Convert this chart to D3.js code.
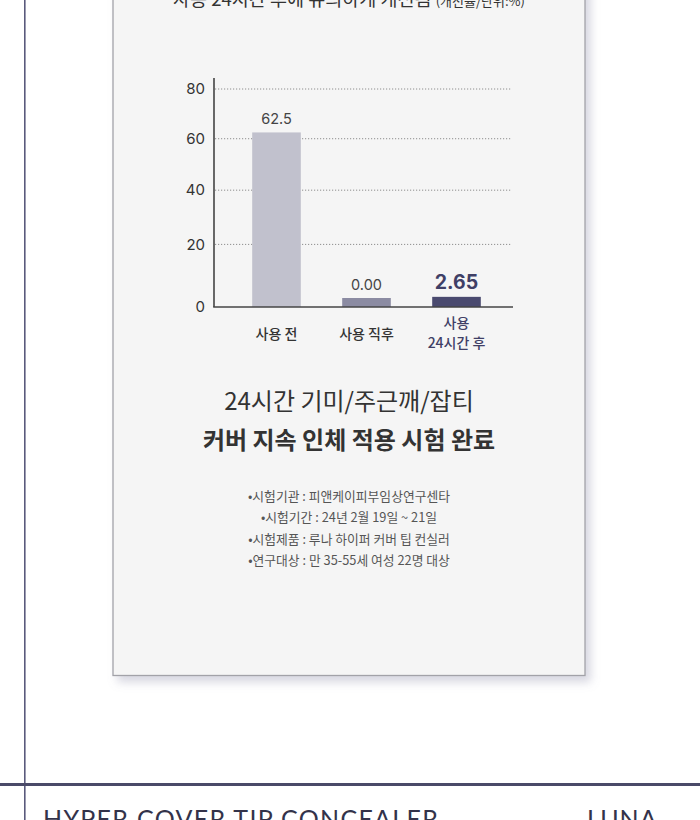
<!DOCTYPE html>
<html>
<head>
<meta charset="utf-8">
<script src="https://cdn.jsdelivr.net/npm/d3@7"></script>
<style>
  html, body { margin: 0; padding: 0; background: #fff; }
  svg { display: block; font-family: "Noto Sans CJK KR", sans-serif; }
</style>
</head>
<body>
<svg id="myChart" width="700" height="820"></svg>
<script>
// chart values
const categories = ["사용 전", "사용 직후", "사용\n24시간 후"];
const values = [62.5, 0.00, 2.65];
const valueLabels = ["62.5", "0.00", "2.65"];
const yTicks = [0, 20, 40, 60, 80];
const barColors = ["#c1c1cd", "#8b8ba2", "#4a4a6f"];

const topNote = "사용 24시간 후에 유의하게 개선됨";
const topUnit = "(개선율/단위:%)";
const titleLines = ["24시간 기미/주근깨/잡티", "커버 지속 인체 적용 시험 완료"];
const notes = [
  "•시험기관 : 피앤케이피부임상연구센타",
  "•시험기간 : 24년 2월 19일 ~ 21일",
  "•시험제품 : 루나 하이퍼 커버 팁 컨실러",
  "•연구대상 : 만 35-55세 여성 22명 대상"
];

const numFont = "Inter, Lato, sans-serif";

let svg = d3.select("#myChart");

let defs = svg.append("defs");
let shadow = defs.append("filter").attr("id", "shadow")
    .attr("x", "-10%").attr("y", "-10%").attr("width", "125%").attr("height", "125%");
shadow.append("feDropShadow")
    .attr("dx", 5).attr("dy", 6).attr("stdDeviation", 5)
    .attr("flood-color", "#8a8aa8").attr("flood-opacity", 0.35);

// page frame lines
svg.append("line")
    .attr("x1", 24.8).attr("x2", 24.8).attr("y1", 0).attr("y2", 820)
    .attr("stroke", "#5a5a7c").attr("stroke-width", 1.6);

// card
svg.append("rect")
    .attr("x", 113).attr("y", -20).attr("width", 472).attr("height", 695.5)
    .attr("fill", "#f5f5f5").attr("stroke", "#a2a2a8").attr("stroke-width", 1.3)
    .attr("filter", "url(#shadow)");

// cut-off heading at the top
let head = svg.append("text")
    .attr("x", 349).attr("y", 6).attr("text-anchor", "middle")
    .attr("fill", "#333");
head.append("tspan").attr("font-size", 18.5).text(topNote + " ");
head.append("tspan").attr("font-size", 13).text(topUnit);

// scales
let x = d3.scaleBand()
    .domain(categories)
    .range([231.5, 501.5])
    .paddingInner(0.46)
    .paddingOuter(0.23);

let y = d3.scalePow().exponent(0.9)
    .domain([0, 80])
    .range([307, 89]);

let chart = svg.append("g");

// dotted grid
chart.selectAll(".grid")
    .data(yTicks.filter(d => d > 0))
    .enter().append("line")
    .attr("class", "grid")
    .attr("x1", 215).attr("x2", 512)
    .attr("y1", d => y(d)).attr("y2", d => y(d))
    .attr("stroke", "#8e8e8e").attr("stroke-width", 1)
    .attr("stroke-dasharray", "1.2,1.8");

// y axis with tick labels only
let yAxis = chart.append("g")
    .attr("transform", "translate(214,0)")
    .call(d3.axisLeft(y).tickValues(yTicks).tickSize(0).tickPadding(9).tickFormat(d3.format("d")));
yAxis.select(".domain").remove();
yAxis.selectAll("text")
    .attr("font-size", 15).attr("fill", "#333")
    .attr("font-family", numFont);

// bars (small minimum height keeps the 0 bar visible, as in the source)
const minH = 9;
chart.selectAll(".bar")
    .data(values)
    .enter().append("rect")
    .attr("class", "bar")
    .attr("x", (d, i) => x(categories[i]))
    .attr("width", x.bandwidth())
    .attr("y", d => Math.min(y(d), y(0) - minH))
    .attr("height", d => Math.max(y(0) - y(d), minH))
    .attr("fill", (d, i) => barColors[i]);

// value labels
chart.selectAll(".val")
    .data(values)
    .enter().append("text")
    .attr("class", "val")
    .attr("x", (d, i) => x(categories[i]) + x.bandwidth() / 2)
    .attr("y", d => Math.min(y(d), y(0) - minH) - 8)
    .attr("text-anchor", "middle")
    .attr("font-family", numFont)
    .attr("font-size", (d, i) => i === 2 ? 19.5 : 14.5)
    .attr("font-weight", (d, i) => i === 2 ? 700 : 400)
    .attr("fill", (d, i) => i === 2 ? "#3f3f66" : "#444")
    .text((d, i) => valueLabels[i]);

// axis lines
chart.append("line")
    .attr("x1", 214).attr("x2", 214).attr("y1", 78).attr("y2", 307)
    .attr("stroke", "#444").attr("stroke-width", 1.6);
chart.append("line")
    .attr("x1", 213.2).attr("x2", 513).attr("y1", y(0)).attr("y2", y(0))
    .attr("stroke", "#444").attr("stroke-width", 1.6);

// category labels
let cat = chart.selectAll(".cat")
    .data(categories)
    .enter().append("text")
    .attr("class", "cat")
    .attr("text-anchor", "middle")
    .attr("font-size", 14)
    .attr("font-weight", 500)
    .attr("fill", (d, i) => i === 2 ? "#3f3f66" : "#333")
    .attr("y", (d, i) => i === 2 ? 328 : 339);
cat.selectAll("tspan")
    .data(d => d.split("\n").map(t => ({t: t, c: d})))
    .enter().append("tspan")
    .attr("x", d => x(d.c) + x.bandwidth() / 2)
    .attr("dy", (d, i) => i === 0 ? 0 : 19.5)
    .text(d => d.t);

// title
svg.selectAll(".title")
    .data(titleLines)
    .enter().append("text")
    .attr("class", "title")
    .attr("x", 349).attr("y", (d, i) => 410 + i * 39)
    .attr("text-anchor", "middle")
    .attr("font-size", 24)
    .attr("font-weight", (d, i) => i === 0 ? 400 : 700)
    .attr("fill", "#333")
    .text(d => d);

// notes
svg.selectAll(".note")
    .data(notes)
    .enter().append("text")
    .attr("class", "note")
    .attr("x", 349).attr("y", (d, i) => 501 + i * 21.4)
    .attr("text-anchor", "middle")
    .attr("font-size", 12.8)
    .attr("fill", "#555")
    .text(d => d);

// bottom rule and footer
svg.append("line")
    .attr("x1", 0).attr("x2", 700).attr("y1", 784.5).attr("y2", 784.5)
    .attr("stroke", "#4a4a68").attr("stroke-width", 3);

svg.append("text")
    .attr("x", 43).attr("y", 828)
    .attr("font-size", 25).attr("font-weight", 400)
    .attr("font-family", "Lato, sans-serif")
    .attr("letter-spacing", 1.3)
    .attr("fill", "#33334a")
    .text("HYPER COVER TIP CONCEALER");
svg.append("text")
    .attr("x", 587).attr("y", 828)
    .attr("font-size", 25).attr("font-weight", 400)
    .attr("font-family", "Lato, sans-serif")
    .attr("letter-spacing", 1)
    .attr("fill", "#33334a")
    .text("LUNA");
</script>
</body>
</html>
